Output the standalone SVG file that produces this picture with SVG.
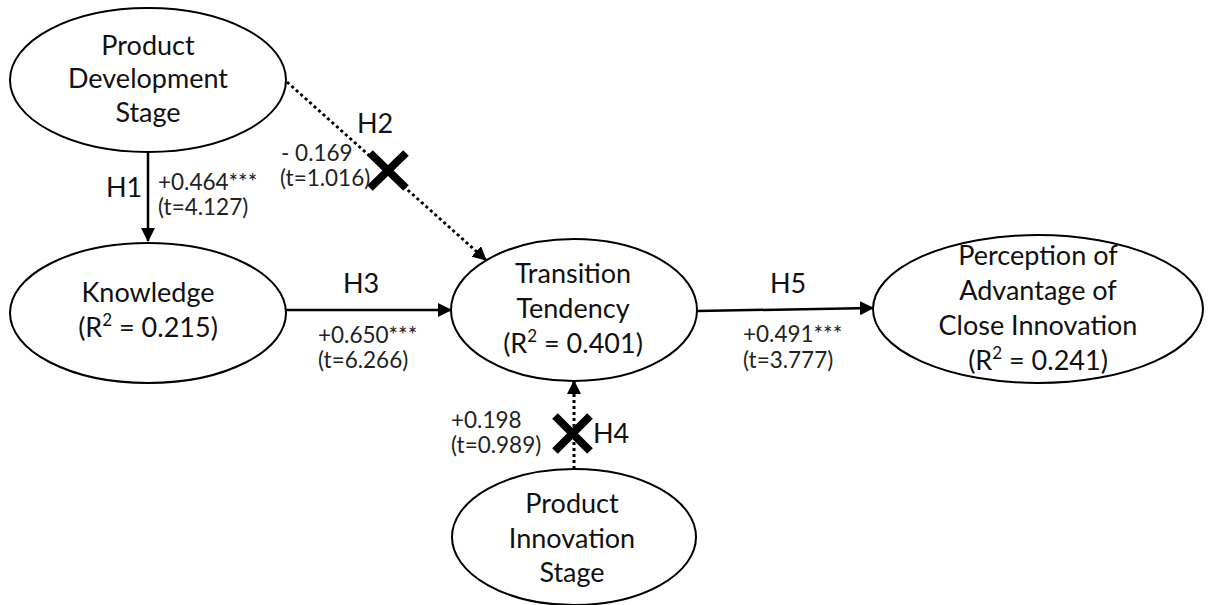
<svg xmlns="http://www.w3.org/2000/svg" width="1214" height="605" viewBox="0 0 1214 605">
<style>
.node ellipse{fill:#fff;stroke:#000;stroke-width:2}
.t{font-family:Lato,"Liberation Sans",sans-serif;font-size:27px;fill:#111;text-anchor:middle}
.s{font-family:Lato,"Liberation Sans",sans-serif;font-size:22.5px;fill:#222}
.h{font-family:Lato,"Liberation Sans",sans-serif;font-size:27px;fill:#111}
.solid{stroke:#000;stroke-width:2.5;fill:none}
.dot{stroke:#000;stroke-width:3;fill:none;stroke-dasharray:3 3}
.x{stroke:#000;stroke-width:8;stroke-linecap:butt}
</style>
<defs>
<marker id="ah" markerUnits="userSpaceOnUse" markerWidth="14" markerHeight="14" viewBox="0 0 14 14" refX="13" refY="7" orient="auto">
<path d="M0,0 L14,7 L0,14 Z" fill="#000"/>
</marker>
</defs>
<g id="connectors">
<line class="solid" x1="148" y1="152" x2="148" y2="241" marker-end="url(#ah)"/>
<line class="dot" x1="287" y1="82" x2="486" y2="260" marker-end="url(#ah)"/>
<line class="solid" x1="286" y1="310" x2="451" y2="310" marker-end="url(#ah)"/>
<line class="solid" x1="697" y1="311" x2="873" y2="308" marker-end="url(#ah)"/>
<line class="dot" x1="574" y1="469" x2="574" y2="381" marker-end="url(#ah)"/>
<g id="x-h2"><line class="x" x1="370" y1="153" x2="406" y2="188"/><line class="x" x1="406" y1="153" x2="370" y2="188"/></g>
<g id="x-h4"><line class="x" x1="555" y1="416" x2="590" y2="451"/><line class="x" x1="590" y1="416" x2="555" y2="451"/></g>
<text class="h" x="106" y="197">H1</text>
<text class="s" x="158" y="190">+0.464***</text>
<text class="s" x="158" y="215">(t=4.127)</text>
<text class="h" x="357" y="133">H2</text>
<text class="s" x="281" y="161">- 0.169</text>
<text class="s" x="280" y="186">(t=1.016)</text>
<text class="h" x="343" y="293">H3</text>
<text class="s" x="318" y="343">+0.650***</text>
<text class="s" x="318" y="368">(t=6.266)</text>
<text class="h" x="593" y="443">H4</text>
<text class="s" x="451" y="428">+0.198</text>
<text class="s" x="451" y="453">(t=0.989)</text>
<text class="h" x="770" y="293">H5</text>
<text class="s" x="743" y="342">+0.491***</text>
<text class="s" x="743" y="368">(t=3.777)</text>
</g>
<g id="node-pds" class="node">
<ellipse cx="148" cy="80" rx="138" ry="72"/>
<text class="t" x="148" y="55">Product</text>
<text class="t" x="148" y="88">Development</text>
<text class="t" x="148" y="122">Stage</text>
</g>
<g id="node-knowledge" class="node">
<ellipse cx="148" cy="313" rx="138" ry="70"/>
<text class="t" x="148" y="302">Knowledge</text>
<text class="t" x="148" y="337">(R<tspan font-size="17" dy="-11">2</tspan><tspan dy="11"> = 0.215)</tspan></text>
</g>
<g id="node-tt" class="node">
<ellipse cx="574" cy="310" rx="123" ry="71"/>
<text class="t" x="573" y="283">Transition</text>
<text class="t" x="573" y="318">Tendency</text>
<text class="t" x="573" y="353">(R<tspan font-size="17" dy="-11">2</tspan><tspan dy="11"> = 0.401)</tspan></text>
</g>
<g id="node-pacei" class="node">
<ellipse cx="1038" cy="309" rx="165" ry="74"/>
<text class="t" x="1038" y="265">Perception of</text>
<text class="t" x="1038" y="300">Advantage of</text>
<text class="t" x="1038" y="335">Close Innovation</text>
<text class="t" x="1038" y="370">(R<tspan font-size="17" dy="-11">2</tspan><tspan dy="11"> = 0.241)</tspan></text>
</g>
<g id="node-pis" class="node">
<ellipse cx="574" cy="537" rx="122" ry="68"/>
<text class="t" x="572" y="513">Product</text>
<text class="t" x="572" y="548">Innovation</text>
<text class="t" x="572" y="582">Stage</text>
</g>
</svg>
